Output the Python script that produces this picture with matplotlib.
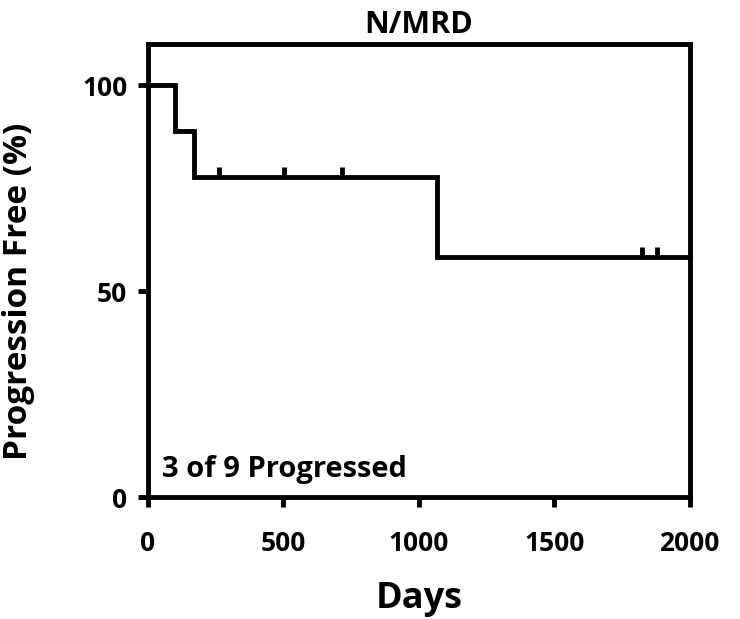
import matplotlib
matplotlib.use("Agg")
import matplotlib.pyplot as plt

# Kaplan-Meier steps (days, % progression free)
step_days = [0, 100, 170, 1066, 2000]
step_surv = [100, 88.9, 77.8, 58.3, 58.3]
# censored patients
censor_days = [262, 502, 716, 1823, 1878]
censor_surv = [77.8, 77.8, 77.8, 58.3, 58.3]

x_ticks = [0, 500, 1000, 1500, 2000]
y_ticks = [0, 50, 100]

plt.rcParams["font.family"] = ["Open Sans", "DejaVu Sans"]
plt.rcParams["font.weight"] = "bold"

fig = plt.figure(figsize=(7.4, 6.19), dpi=100)
ax = fig.add_axes([0.2, 0.197, 0.732, 0.732])

ax.step(step_days, step_surv, where="post", color="black", lw=3.5,
        clip_on=False, solid_joinstyle="miter")
ax.plot(censor_days, censor_surv, ls="none", marker=2, color="black",
        markersize=7, markeredgewidth=3.5, clip_on=False)

ax.set_xlim(0, 2000)
ax.set_ylim(0, 110)
ax.set_xticks(x_ticks)
ax.set_yticks(y_ticks)

for s in ax.spines.values():
    s.set_linewidth(3.5)
ax.tick_params(axis="both", direction="out", length=7, width=3.5,
               labelsize=19)
ax.tick_params(axis="x", pad=17)
ax.tick_params(axis="y", pad=8)

ax.set_title("N/MRD", fontsize=22, fontweight="bold", pad=8)
ax.set_xlabel("Days", fontsize=26, fontweight="bold")
ax.set_ylabel("Progression Free (%)", fontsize=24, fontweight="bold")
ax.xaxis.set_label_coords(0.5, -0.185)
ax.yaxis.set_label_coords(-0.208, 0.455)

ax.text(0.025, 0.045, "3 of 9 Progressed", transform=ax.transAxes,
        fontsize=21, fontweight="bold", ha="left", va="baseline")

fig.savefig("out.png", dpi=100)
